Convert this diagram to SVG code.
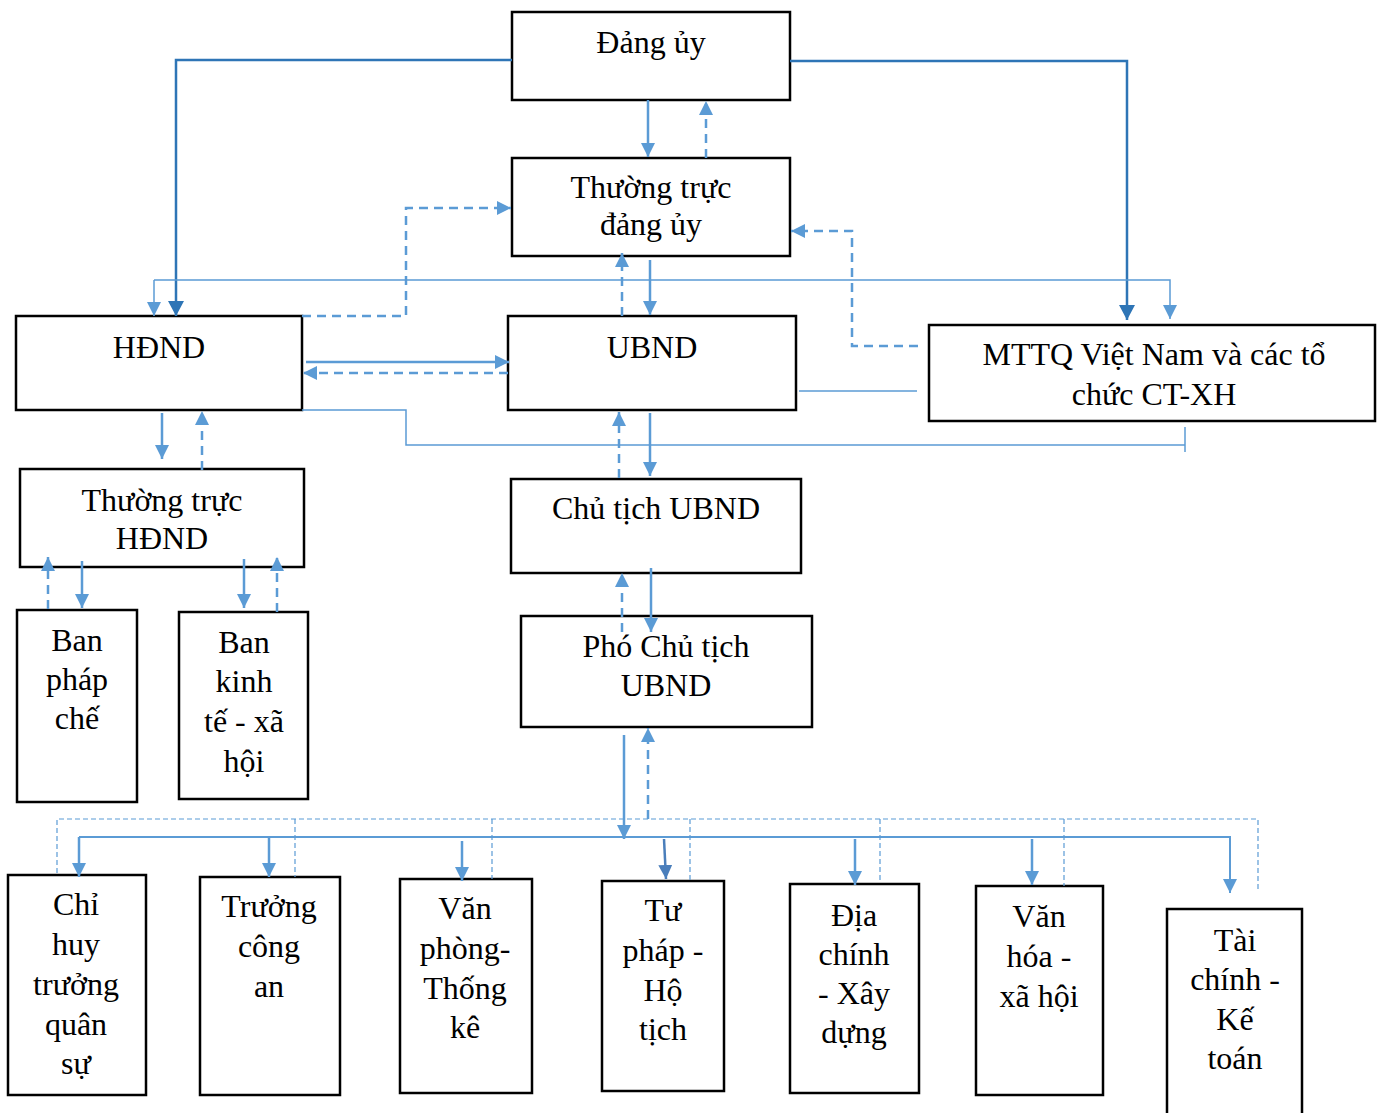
<svg xmlns="http://www.w3.org/2000/svg" width="1383" height="1113" viewBox="0 0 1383 1113">
<style>
.box{fill:#fff;stroke:#000;stroke-width:2.5}
text{font-family:'Liberation Serif',serif;font-size:32px;text-anchor:middle;fill:#000}
.s{fill:none;stroke:#5B9BD5;stroke-width:2.5}
.d{fill:none;stroke:#5B9BD5;stroke-width:2.5;stroke-dasharray:9,6}
.k{fill:none;stroke:#2E75B6;stroke-width:2.5}
.th{fill:none;stroke:#5B9BD5;stroke-width:1.5}
.td{fill:none;stroke:#5B9BD5;stroke-width:1.2;stroke-dasharray:5,3}
.m{fill:none;stroke:#4A7EBB;stroke-width:2.5}
</style>
<defs>
<marker id="al" markerUnits="userSpaceOnUse" markerWidth="14" markerHeight="14" refX="14" refY="7" orient="auto" viewBox="0 0 14 14"><path d="M0,0 L14,7 L0,14 z" fill="#5B9BD5"/></marker>
<marker id="ak" markerUnits="userSpaceOnUse" markerWidth="15" markerHeight="16" refX="15" refY="8" orient="auto" viewBox="0 0 15 16"><path d="M0,0 L15,8 L0,16 z" fill="#2E75B6"/></marker>
<marker id="am" markerUnits="userSpaceOnUse" markerWidth="14" markerHeight="14" refX="14" refY="7" orient="auto" viewBox="0 0 14 14"><path d="M0,0 L14,7 L0,14 z" fill="#4A7EBB"/></marker>
</defs>
<rect width="1383" height="1113" fill="#fff"/>

<g font-family="Liberation Serif, serif">
<g id="dang_uy"><rect class="box" x="512" y="12" width="278" height="88"/><text x="651" y="53">Đảng ủy</text></g>
<g id="thuong_truc_dang_uy"><rect class="box" x="512" y="158" width="278" height="98"/><text x="651" y="198">Thường trực</text><text x="651" y="235">đảng ủy</text></g>
<g id="hdnd"><rect class="box" x="16" y="316" width="286" height="94"/><text x="159" y="358">HĐND</text></g>
<g id="ubnd"><rect class="box" x="508" y="316" width="288" height="94"/><text x="652" y="358">UBND</text></g>
<g id="mttq"><rect class="box" x="929" y="325" width="446" height="96"/><text x="1154" y="365">MTTQ Việt Nam và các tổ</text><text x="1154" y="405">chức CT-XH</text></g>
<g id="thuong_truc_hdnd"><rect class="box" x="20" y="469" width="284" height="98"/><text x="162" y="511">Thường trực</text><text x="162" y="549">HĐND</text></g>
<g id="ban_phap_che"><rect class="box" x="17" y="610" width="120" height="192"/><text x="77" y="651">Ban</text><text x="77" y="690">pháp</text><text x="77" y="729">chế</text></g>
<g id="ban_kinh_te"><rect class="box" x="179" y="612" width="129" height="187"/><text x="244" y="653">Ban</text><text x="244" y="692">kinh</text><text x="244" y="732">tế - xã</text><text x="244" y="772">hội</text></g>
<g id="chu_tich"><rect class="box" x="511" y="479" width="290" height="94"/><text x="656" y="519">Chủ tịch UBND</text></g>
<g id="pho_chu_tich"><rect class="box" x="521" y="616" width="291" height="111"/><text x="666" y="657">Phó Chủ tịch</text><text x="666" y="696">UBND</text></g>
<g id="chi_huy"><rect class="box" x="8" y="875" width="138" height="220"/><text x="76" y="915">Chỉ</text><text x="76" y="955">huy</text><text x="76" y="995">trưởng</text><text x="76" y="1035">quân</text><text x="76" y="1074">sự</text></g>
<g id="truong_cong_an"><rect class="box" x="200" y="877" width="140" height="218"/><text x="269" y="917">Trưởng</text><text x="269" y="957">công</text><text x="269" y="997">an</text></g>
<g id="van_phong"><rect class="box" x="400" y="879" width="132" height="214"/><text x="465" y="919">Văn</text><text x="465" y="959">phòng-</text><text x="465" y="999">Thống</text><text x="465" y="1038">kê</text></g>
<g id="tu_phap"><rect class="box" x="602" y="881" width="122" height="210"/><text x="663" y="921">Tư</text><text x="663" y="961">pháp -</text><text x="663" y="1001">Hộ</text><text x="663" y="1040">tịch</text></g>
<g id="dia_chinh"><rect class="box" x="790" y="884" width="129" height="209"/><text x="854" y="926">Địa</text><text x="854" y="965">chính</text><text x="854" y="1004">- Xây</text><text x="854" y="1043">dựng</text></g>
<g id="van_hoa"><rect class="box" x="976" y="886" width="127" height="209"/><text x="1039" y="927">Văn</text><text x="1039" y="967">hóa -</text><text x="1039" y="1007">xã hội</text></g>
<g id="tai_chinh"><rect class="box" x="1167" y="909" width="135" height="215"/><text x="1235" y="951">Tài</text><text x="1235" y="990">chính -</text><text x="1235" y="1030">Kế</text><text x="1235" y="1069">toán</text></g>
</g>

<g id="connectors">
<path class="k" d="M512,60 H176 V316" marker-end="url(#ak)"/>
<path class="k" d="M790,61 H1127 V320" marker-end="url(#ak)"/>
<path class="s" d="M648,100 V157" marker-end="url(#al)"/>
<path class="d" d="M706,158 V101" marker-end="url(#al)"/>
<path class="d" d="M302,316 H406 V208 H511" marker-end="url(#al)"/>
<path class="d" d="M918,346 H852 V231 H791" marker-end="url(#al)"/>
<path class="th" d="M154,280 H1170 V319" marker-end="url(#al)"/>
<path class="th" d="M154,280 V316" marker-end="url(#al)"/>
<path class="s" d="M650,260 V315" marker-end="url(#al)"/>
<path class="d" d="M622,316 V253" marker-end="url(#al)"/>
<path class="s" d="M306,362 H509" marker-end="url(#al)"/>
<path class="d" d="M508,373 H303" marker-end="url(#al)"/>
<path class="th" d="M302,410 H406 V445 H1185"/>
<path class="th" d="M1185,427 V452"/>
<path class="th" d="M799,391 H917"/>
<path class="s" d="M162,413 V459" marker-end="url(#al)"/>
<path class="d" d="M202,470 V411" marker-end="url(#al)"/>
<path class="s" d="M82,561 V608" marker-end="url(#al)"/>
<path class="d" d="M48,609 V557" marker-end="url(#al)"/>
<path class="s" d="M244,559 V608" marker-end="url(#al)"/>
<path class="d" d="M277,612 V557" marker-end="url(#al)"/>
<path class="s" d="M650,413 V476" marker-end="url(#al)"/>
<path class="d" d="M619,478 V412" marker-end="url(#al)"/>
<path class="s" d="M651,568 V632" marker-end="url(#al)"/>
<path class="d" d="M622,632 V573" marker-end="url(#al)"/>
<path class="s" d="M624,735 V839" marker-end="url(#al)"/>
<path class="d" d="M648,819 V728" marker-end="url(#al)"/>
<path class="td" d="M57,873 V819 H1258 V892"/>
<path class="td" d="M295,819 V877"/>
<path class="td" d="M492,819 V879"/>
<path class="td" d="M690,819 V882"/>
<path class="td" d="M880,819 V883"/>
<path class="td" d="M1064,819 V886"/>
<path class="th" style="stroke-width:2" d="M79,837 H1230 V893" marker-end="url(#al)"/>
<path class="s" d="M79,837 V877" marker-end="url(#al)"/>
<path class="s" d="M269,837 V877" marker-end="url(#al)"/>
<path class="s" d="M462,841 V881" marker-end="url(#al)"/>
<path class="m" d="M664,839 L666,879" marker-end="url(#am)"/>
<path class="s" d="M855,839 V885" marker-end="url(#al)"/>
<path class="s" d="M1032,839 V885" marker-end="url(#al)"/>
</g>
</svg>
